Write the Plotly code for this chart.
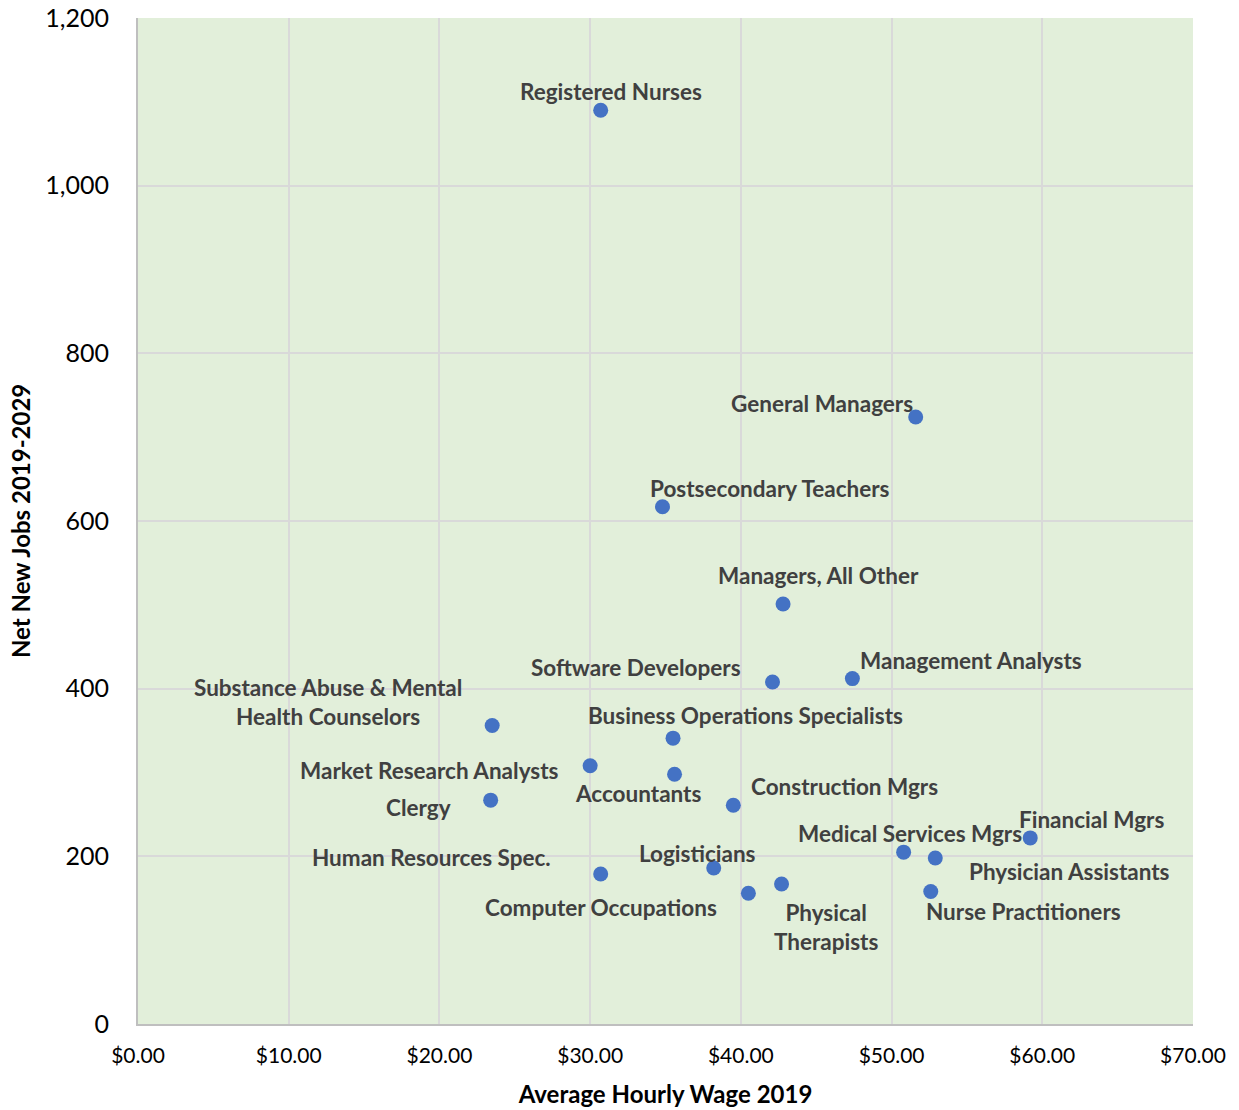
import plotly.graph_objects as go

# Occupations: average hourly wage (2019) vs net new jobs 2019-2029
occupations = [
    "Registered Nurses", "General Managers", "Postsecondary Teachers",
    "Managers, All Other", "Software Developers", "Management Analysts",
    "Substance Abuse & Mental<br>Health Counselors", "Business Operations Specialists",
    "Market Research Analysts", "Accountants", "Clergy", "Construction Mgrs",
    "Financial Mgrs", "Medical Services Mgrs", "Physician Assistants",
    "Human Resources Spec.", "Logisticians", "Computer Occupations",
    "Physical<br>Therapists", "Nurse Practitioners",
]
hourly_wage = [30.7, 51.6, 34.8, 42.8, 42.1, 47.4, 23.5, 35.5, 30.0, 35.6,
               23.4, 39.5, 59.2, 50.8, 52.9, 30.7, 38.2, 40.5, 42.7, 52.6]
net_new_jobs = [1090, 724, 617, 501, 408, 412, 356, 341, 308, 298,
                267, 261, 222, 205, 198, 179, 186, 156, 167, 158]

# pixel offsets of each label relative to its point (dx, dy; dy up is positive)
label_offsets = [
    (10, 19), (-94, 14), (108, 18), (35, 29), (-137, 14), (119, 18),
    (-164, 24), (72, 23), (-161, -5), (-37, -19), (-72, -7), (111, 19),
    (61, 18), (6, 19), (134, -13), (-169, 16), (-16, 15), (-147, -14),
    (44, -43), (93, -20),
]

fig = go.Figure()
fig.add_trace(go.Scatter(
    x=hourly_wage, y=net_new_jobs, mode="markers",
    marker=dict(color="#4472C4", size=15, line=dict(width=0)),
    hoverinfo="skip", showlegend=False,
))

for name, xv, yv, (dx, dy) in zip(occupations, hourly_wage, net_new_jobs, label_offsets):
    fig.add_annotation(
        x=xv, y=yv, text=name, showarrow=False,
        xshift=dx, yshift=dy, align="center",
        font=dict(family="Lato", size=22.5, color="#404040", weight="bold"),
    )

# vertical axis title, placed left of the tick labels
fig.add_annotation(
    xref="paper", yref="paper", x=0, y=0.5, xshift=-118,
    xanchor="center", yanchor="middle",
    text="<b>Net New Jobs 2019-2029</b>", textangle=-90, showarrow=False,
    font=dict(family="Lato", size=24, color="#000000"),
)

fig.update_layout(
    width=1239, height=1110,
    margin=dict(l=138, r=46, t=18, b=86),
    paper_bgcolor="white", plot_bgcolor="#E2EFDA",
    xaxis=dict(
        range=[0, 70], dtick=10, tick0=0, tickprefix="$", tickformat=".2f",
        showgrid=True, gridcolor="#D9D9D9", gridwidth=2,
        showline=True, linecolor="#BFBFBF", linewidth=2,
        zeroline=False, ticks="", ticklabelstandoff=12, automargin=False,
        tickfont=dict(family="Lato", size=21, color="#000000"),
        title=dict(text="<b>Average Hourly Wage 2019</b>", standoff=20,
                   font=dict(family="Lato", size=24, color="#000000")),
    ),
    yaxis=dict(
        range=[0, 1200], dtick=200, tick0=0, tickformat=",",
        showgrid=True, gridcolor="#D9D9D9", gridwidth=2,
        showline=True, linecolor="#BFBFBF", linewidth=2,
        zeroline=False, ticks="", ticklabelstandoff=22, automargin=False,
        tickfont=dict(family="Lato", size=25, color="#000000"),
    ),
)

fig.write_html("out.html")
